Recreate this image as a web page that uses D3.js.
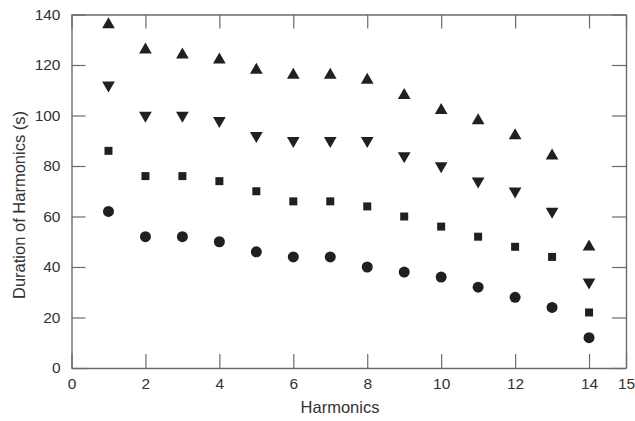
<!DOCTYPE html>
<html>
<head>
<meta charset="utf-8">
<script src="https://cdn.jsdelivr.net/npm/d3@7"></script>
<style>
  html, body { margin: 0; padding: 0; background: #fff; }
  svg { display: block; font-family: "Liberation Sans", Arial, sans-serif; }
</style>
</head>
<body>
<svg id="chart" width="635" height="421"></svg>
<script>
// Harmonic numbers and the duration of each harmonic for four series
const harmonics = [1, 2, 3, 4, 5, 6, 7, 8, 9, 10, 11, 12, 13, 14];
const upTriangle   = [136, 126, 124, 122, 118, 116, 116, 114, 108, 102, 98, 92, 84, 48];
const downTriangle = [112, 100, 100, 98, 92, 90, 90, 90, 84, 80, 74, 70, 62, 34];
const squares      = [86, 76, 76, 74, 70, 66, 66, 64, 60, 56, 52, 48, 44, 22];
const circles      = [62, 52, 52, 50, 46, 44, 44, 40, 38, 36, 32, 28, 24, 12];
const xTicks = [0, 2, 4, 6, 8, 10, 12, 14, 15];
const yTicks = [0, 20, 40, 60, 80, 100, 120, 140];

const svg = d3.select("#chart");
const m = { left: 71.5, right: 9, top: 14.5, bottom: 53 };
const W = 635, H = 421;
const x = d3.scaleLinear().domain([0, 15]).range([m.left, W - m.right]);
const y = d3.scaleLinear().domain([0, 140]).range([H - m.bottom, m.top]);

const axisColor = "#6b6b6b";
const markColor = "#231f20";
const tickLen = 14;

// Frame with inward ticks on all four sides
const g = svg.append("g");
const axisBottomG = g.append("g").attr("transform", `translate(0,${y(0)})`)
  .call(d3.axisBottom(x).tickValues(xTicks).tickSize(-tickLen).tickPadding(10).tickSizeOuter(0));
const axisTopG = g.append("g").attr("transform", `translate(0,${y(140)})`)
  .call(d3.axisTop(x).tickValues(xTicks).tickSize(-tickLen).tickFormat("").tickSizeOuter(0));
const axisLeftG = g.append("g").attr("transform", `translate(${x(0)},0)`)
  .call(d3.axisLeft(y).tickValues(yTicks).tickSize(-tickLen).tickPadding(11).tickSizeOuter(0));
const axisRightG = g.append("g").attr("transform", `translate(${x(15)},0)`)
  .call(d3.axisRight(y).tickValues(yTicks).tickSize(-tickLen).tickFormat("").tickSizeOuter(0));

[axisBottomG, axisTopG, axisLeftG, axisRightG].forEach(a => {
  a.selectAll("path").attr("stroke", axisColor).attr("stroke-width", 1.4);
  a.selectAll("line").attr("stroke", axisColor).attr("stroke-width", 1.2);
  a.selectAll("text").attr("fill", "#333").attr("font-size", 15.5)
    .attr("font-family", "\"Liberation Sans\", Arial, sans-serif");
});

// Axis titles
svg.append("text")
  .attr("x", 340).attr("y", 413)
  .attr("text-anchor", "middle").attr("fill", "#333").attr("font-size", 16.5)
  .text("Harmonics");
svg.append("text")
  .attr("transform", "translate(24.5,205) rotate(-90)")
  .attr("text-anchor", "middle").attr("fill", "#333").attr("font-size", 16.5)
  .text("Duration of Harmonics (s)");

// Data markers
const series = [
  { values: upTriangle,   symbol: d3.symbolTriangle, size: 70, rotate: 0 },
  { values: downTriangle, symbol: d3.symbolTriangle, size: 70, rotate: 180 },
  { values: squares,      symbol: d3.symbolSquare,   size: 64, rotate: 0 },
  { values: circles,      symbol: d3.symbolCircle,   size: 95, rotate: 0 }
];

series.forEach(s => {
  svg.append("g").selectAll("path")
    .data(harmonics.map((h, i) => [h, s.values[i]]))
    .join("path")
    .attr("d", d3.symbol().type(s.symbol).size(s.size))
    .attr("transform", d => `translate(${x(d[0])},${y(d[1])}) rotate(${s.rotate})`)
    .attr("fill", markColor);
});
</script>
</body>
</html>
